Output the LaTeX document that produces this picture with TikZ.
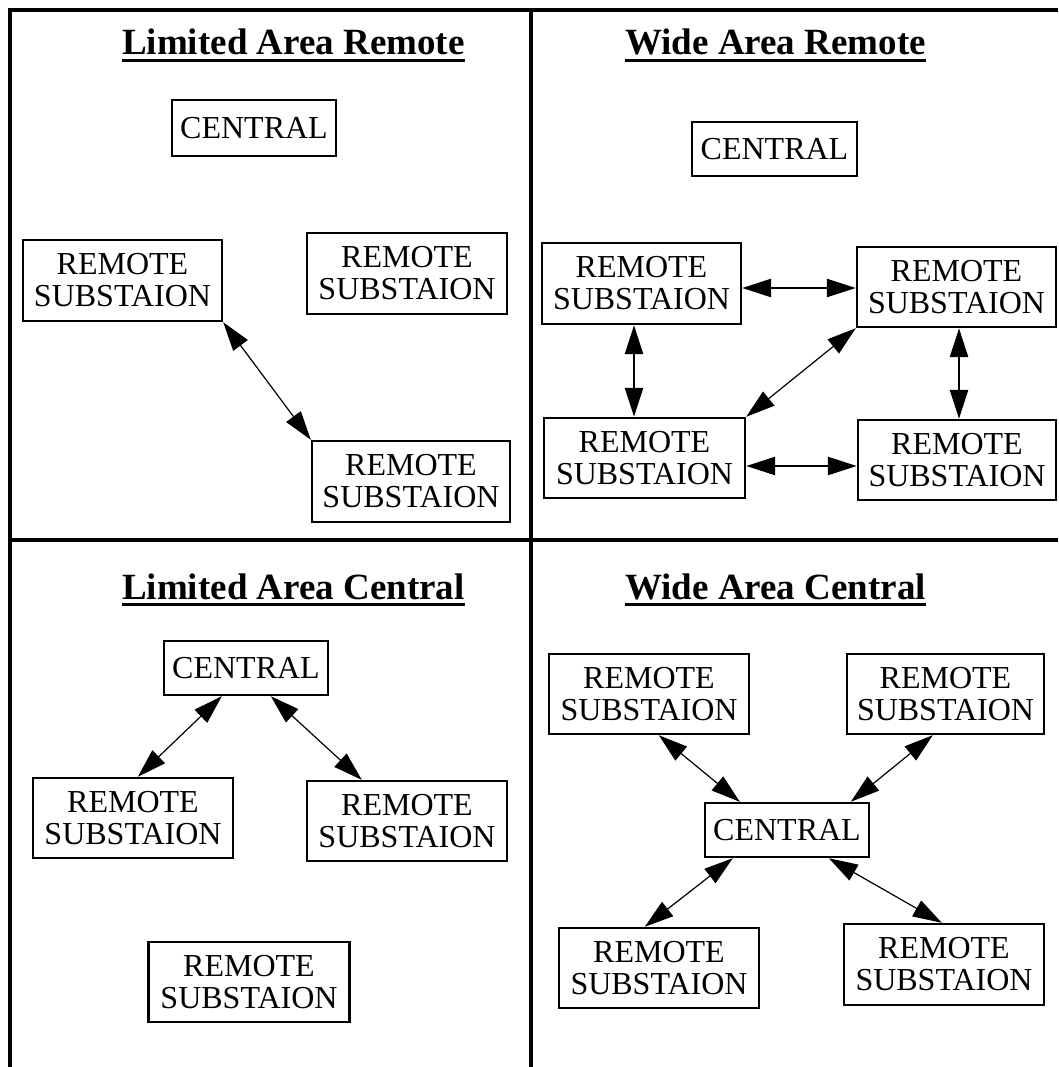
\documentclass[tikz,border=0pt]{standalone}
\usepackage{fontspec}
\setmainfont{Liberation Serif}
\usetikzlibrary{arrows.meta,calc}
\begin{document}
\begin{tikzpicture}[x=1pt,y=-1pt,
  box/.style={draw, line width=2.4pt, inner sep=0pt, align=center, font=\fontsize{32}{32}\selectfont},
  ttl/.style={anchor=base west, inner sep=0pt, font=\fontsize{37}{40}\selectfont\bfseries},
  framepart/.style={line width=3.5pt},
  uline/.style={line width=3.5pt},
  dbl/.style={{Triangle[length=29pt,width=18pt]}-{Triangle[length=29pt,width=18pt]}, line width=1.2pt},
  dblthick/.style={dbl, line width=2.6pt}]
\fill[white] (0,0) rectangle (1058,1067);
\useasboundingbox (0,0) rectangle (1058,1067);

% frame
\draw[framepart] (10,1067) -- (10,10) -- (1058,10);
\draw[framepart] (531,10) -- (531,1067);
\draw[framepart] (10,540) -- (1058,540);

% titles
\node[ttl] (t1) at (122,55) {Limited Area Remote};
\node[ttl] (t2) at (625,55) {Wide Area Remote};
\node[ttl] (t3) at (122,599) {Limited Area Central};
\node[ttl] (t4) at (625,599) {Wide Area Central};
\foreach \t in {t1,t2,t3,t4}
  \draw[uline] ([yshift=-5.5pt]\t.base west) -- ([yshift=-5.5pt]\t.base east);

% Limited Area Remote
\node[box, minimum width=164pt, minimum height=56pt] (c1) at (254,128) {CENTRAL};
\node[box, minimum width=199pt, minimum height=81pt] (r1a) at (122.5,280.5) {REMOTE\\SUBSTAION};
\node[box, minimum width=200pt, minimum height=81pt] (r1b) at (407,273.5) {REMOTE\\SUBSTAION};
\node[box, minimum width=198pt, minimum height=81pt] (r1c) at (411,481.5) {REMOTE\\SUBSTAION};
\draw[dbl] (r1a.south east) -- (r1c.north west);

% Wide Area Remote
\node[box, minimum width=165pt, minimum height=54pt] (c2) at (774.5,149) {CENTRAL};
\node[box, minimum width=199pt, minimum height=81pt] (r2a) at (641.5,283.5) {REMOTE\\SUBSTAION};
\node[box, minimum width=199pt, minimum height=80pt] (r2b) at (956.5,287) {REMOTE\\SUBSTAION};
\node[box, minimum width=201pt, minimum height=80pt] (r2c) at (644.5,458) {REMOTE\\SUBSTAION};
\node[box, minimum width=198pt, minimum height=80pt] (r2d) at (957,460) {REMOTE\\SUBSTAION};
\coordinate (h1) at (0,288);
\coordinate (h2) at (0,466);
\coordinate (v1) at (634,0);
\coordinate (v2) at (959,0);
\draw[dblthick] (r2a.east |- h1) -- (r2b.west |- h1);
\draw[dblthick] (r2c.east |- h2) -- (r2d.west |- h2);
\draw[dblthick] (r2a.south -| v1) -- (r2c.north -| v1);
\draw[dblthick] (r2b.south -| v2) -- (r2d.north -| v2);
\draw[dbl] (r2c.north east) -- (r2b.south west);

% Limited Area Central
\node[box, minimum width=164pt, minimum height=54pt] (c3) at (246,668) {CENTRAL};
\node[box, minimum width=200pt, minimum height=80pt] (r3a) at (133,818) {REMOTE\\SUBSTAION};
\node[box, minimum width=200pt, minimum height=80pt] (r3b) at (407,821) {REMOTE\\SUBSTAION};
\node[box, minimum width=201pt, minimum height=80pt] (r3c) at (249,982) {REMOTE\\SUBSTAION};
\draw[dbl] ([xshift=59pt]c3.south west) -- ([xshift=106pt]r3a.north west);
\draw[dbl] ([xshift=108pt]c3.south west) -- ([xshift=56pt]r3b.north west);

% Wide Area Central
\node[box, minimum width=200pt, minimum height=80pt] (r4a) at (649,694) {REMOTE\\SUBSTAION};
\node[box, minimum width=197pt, minimum height=80pt] (r4b) at (945.5,694) {REMOTE\\SUBSTAION};
\node[box, minimum width=164pt, minimum height=54pt] (c4) at (787,830) {CENTRAL};
\node[box, minimum width=200pt, minimum height=80pt] (r4c) at (659,968) {REMOTE\\SUBSTAION};
\node[box, minimum width=200pt, minimum height=81pt] (r4d) at (944,964.5) {REMOTE\\SUBSTAION};
\draw[dbl] ([xshift=111pt]r4a.south west) -- ([xshift=36pt]c4.north west);
\draw[dbl] ([xshift=87pt]r4b.south west) -- ([xshift=147pt]c4.north west);
\draw[dbl] ([xshift=29pt]c4.south west) -- ([xshift=87pt]r4c.north west);
\draw[dbl] ([xshift=125pt]c4.south west) -- ([xshift=99pt]r4d.north west);
\end{tikzpicture}
\end{document}
